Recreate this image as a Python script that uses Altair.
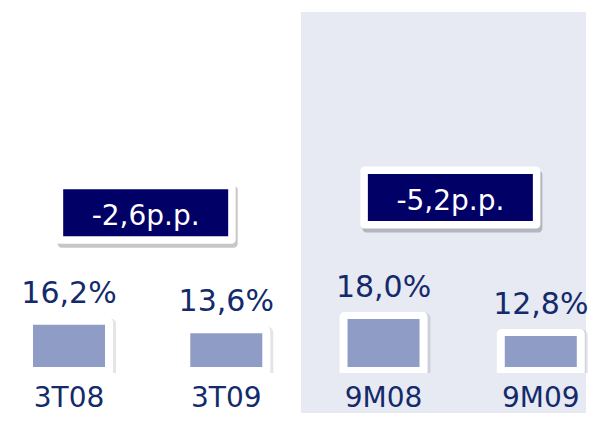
import altair as alt
import pandas as pd

categories = ["3T08", "3T09", "9M08", "9M09"]
values = [16.2, 13.6, 18.0, 12.8]
delta_labels = ["-2,6p.p.", "-5,2p.p."]
delta_x = [0.4875, 2.425]
delta_y = [50.5, 55.1]

BASE = 3.3
YDOM = [-10.77, 113.09]
XDOM = [-0.35625, 3.2875]
NAVY_TXT = "#132a6b"
FONT = "DejaVu Sans"

bars = pd.DataFrame({"cat": categories, "i": list(range(len(categories))), "v": values, "base": BASE})
ann = pd.DataFrame({"label": delta_labels, "ax": delta_x, "ay": delta_y})
shade = pd.DataFrame({"x": [1.475], "x2": [XDOM[1]], "y": [111.9], "y2": [YDOM[0]]})

xs = alt.Scale(domain=XDOM, nice=False, zero=False)
ys = alt.Scale(domain=YDOM, nice=False, zero=False)

X = alt.X("i:Q", scale=xs, axis=None)
Y = alt.Y("v:Q", scale=ys, axis=None)

bg = alt.Chart(shade).mark_rect(color="#e7e9f3").encode(
    x=alt.X("x:Q", scale=xs, axis=None), x2="x2:Q",
    y=alt.Y("y:Q", scale=ys, axis=None), y2="y2:Q")

base = alt.Chart(bars)

bar_shadow = base.mark_bar(size=90, color="#000000", opacity=0.10, xOffset=2, yOffset=-6, y2Offset=6,
                           cornerRadiusTopLeft=5, cornerRadiusTopRight=5).encode(x=X, y=Y, y2="base:Q")
bar_white = base.mark_bar(size=88, color="#ffffff", yOffset=-7, y2Offset=6,
                          cornerRadiusTopLeft=5, cornerRadiusTopRight=5).encode(x=X, y=Y, y2="base:Q")
bar_fill = base.mark_bar(size=72, color="#8f9cc5").encode(x=X, y=Y, y2="base:Q")

val_text = base.transform_calculate(
    lab="replace(format(datum.v, '.1f'), '.', ',') + '%'"
).mark_text(font=FONT, fontSize=30, color=NAVY_TXT, baseline="alphabetic", dy=-22).encode(
    x=X, y=Y, text="lab:N")

cat_text = base.transform_calculate(ymin=str(YDOM[0])).mark_text(
    font=FONT, fontSize=28, color=NAVY_TXT, baseline="bottom", dy=0).encode(
    x=X, y=alt.Y("ymin:Q", scale=ys, axis=None), text="cat:N")

AX = alt.X("ax:Q", scale=xs, axis=None)
AY = alt.Y("ay:Q", scale=ys, axis=None)
a = alt.Chart(ann)
ann_shadow = a.mark_rect(width=180, height=62, color="#000000", opacity=0.22, xOffset=2, yOffset=4,
                         cornerRadius=4).encode(x=AX, y=AY)
ann_white = a.mark_rect(width=180, height=62, color="#ffffff", cornerRadius=4).encode(x=AX, y=AY)
ann_navy = a.mark_rect(width=165, height=47, color="#000066").encode(x=AX, y=AY)
ann_text = a.mark_text(font=FONT, fontSize=28, color="#ffffff", baseline="alphabetic", dy=12).encode(
    x=AX, y=AY, text="label:N")

chart = alt.layer(bg, bar_shadow, bar_white, bar_fill, val_text, cat_text,
                  ann_shadow, ann_white, ann_navy, ann_text).properties(
    width=583, height=405, padding=0, autosize=alt.AutoSizeParams(type="none")
).configure_view(stroke=None)

chart.save("out.html", embed_options={"renderer": "svg", "actions": False})
